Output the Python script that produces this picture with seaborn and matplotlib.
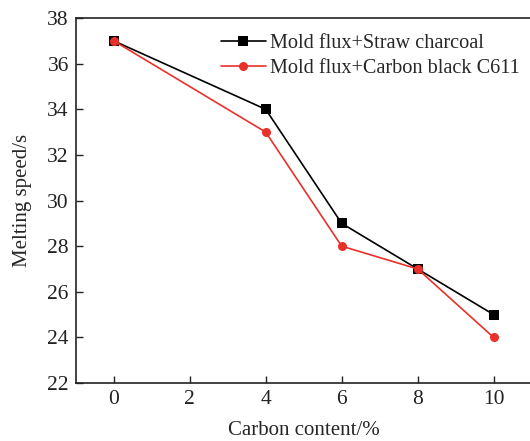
import matplotlib
matplotlib.use("Agg")
import matplotlib.pyplot as plt
import seaborn as sns
import pandas as pd

carbon = [0, 4, 6, 8, 10]
straw = [37, 34, 29, 27, 25]
c611 = [37, 33, 28, 27, 24]
labels = ["Mold flux+Straw charcoal", "Mold flux+Carbon black C611"]

sns.set_theme(style="ticks")
plt.rcParams['font.family'] = ['Liberation Serif', 'DejaVu Serif']
plt.rcParams['mathtext.fontset'] = 'stix'

df = pd.DataFrame({
    "x": carbon + carbon,
    "y": straw + c611,
    "series": [labels[0]] * len(carbon) + [labels[1]] * len(carbon),
})

fig = plt.figure(figsize=(5.3, 4.41), dpi=100)
ax = fig.add_axes([0.143, 0.1315, 0.860, 0.8275])

sns.lineplot(data=df, x="x", y="y", hue="series", style="series",
             palette=["#000000", "#e8312a"], markers=["s", "o"], dashes=False,
             markersize=6.5, linewidth=1.2, markeredgewidth=0, ax=ax)

ax.set_xlim(-1, 11)
ax.set_ylim(22, 38)
ax.set_xticks([0, 2, 4, 6, 8, 10])
ax.set_yticks(range(22, 39, 2))
ax.tick_params(direction="in", labelsize=15.5, length=5, width=1, colors="#222222", pad=5)
for s in ax.spines.values():
    s.set_linewidth(1.2)
    s.set_color("#222222")
ax.spines['right'].set_visible(False)
ax.set_xlabel("Carbon content/%", fontsize=15, labelpad=9)
ax.set_ylabel("Melting speed/s", fontsize=15, labelpad=11)

leg = ax.legend(loc="upper right", frameon=False, fontsize=14.6, handlelength=2.2,
                handletextpad=0.2, borderaxespad=0.2, labelspacing=0.3,
                bbox_to_anchor=(1.0, 0.99))
fig.savefig("out.png", dpi=100)
